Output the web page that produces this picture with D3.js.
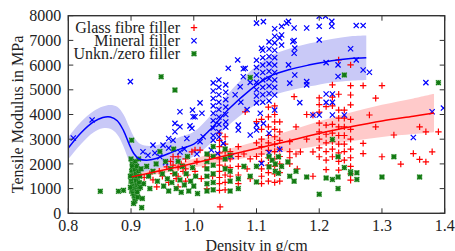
<!DOCTYPE html>
<html lang="en">
<head>
    <meta charset="UTF-8">
    <title>Tensile Modulus vs Density</title>
    <script src="https://d3js.org/d3.v7.min.js"></script>
    <style>
        body { margin: 0; background: #fff; }
    </style>
</head>
<body>
    <svg width="455" height="251"></svg>

    <script>
        // [density g/cm^3, tensile modulus MPa]
        const glassFibre = [
            [0.921,1450],[0.93,1600],[0.935,1350],[0.941,1070],[0.945,1700],[0.95,1500],[0.957,1880],[0.96,1250],
            [0.963,2100],[0.967,2290],[0.967,1950],[0.967,1610],[0.972,1400],[0.975,2290],[0.975,1850],[0.975,1500],
            [0.975,1070],[0.98,2000],[0.983,1700],[0.987,2200],[0.987,1800],[0.987,1300],[0.99,1550],[0.997,2490],
            [1.002,2560],[1.002,1700],[1.005,2100],[1.01,2560],[1.012,1400],[1.018,1880],[1.021,1000],[1.025,2300],[1.03,1500],
            [1.041,3250],[1.041,2950],[1.041,2700],[1.041,2450],[1.041,2200],[1.041,1950],[1.041,1700],[1.041,1450],
            [1.041,1200],[1.041,930],[1.042,260],
            [1.05,3100],[1.05,2800],[1.05,2500],[1.05,2200],[1.05,1900],[1.05,1550],[1.05,1250],[1.05,950],
            [1.058,2500],[1.058,2200],[1.058,1850],[1.058,1500],
            [1.071,2700],[1.071,2300],[1.071,1900],[1.071,1550],[1.071,1200],
            [1.082,4110],[1.08,2400],[1.085,1800],[1.09,2200],[1.09,1400],[1.1,3710],[1.1,2850],[1.1,2300],
            [1.108,3800],[1.108,3400],[1.108,3000],[1.108,2700],[1.108,2400],[1.108,2100],[1.108,1800],[1.108,1500],[1.108,1200],
            [1.119,4300],[1.119,3900],[1.119,3500],[1.119,3150],[1.119,2850],[1.119,2550],[1.119,2250],[1.119,1950],[1.119,1650],[1.119,1300],
            [1.129,4350],[1.129,4000],[1.129,3700],[1.129,3400],[1.129,3100],[1.129,2800],[1.129,2500],[1.129,2200],
            [1.129,1900],[1.129,1600],[1.129,1250],
            [1.137,3700],[1.137,3300],[1.137,2950],[1.137,2600],[1.137,2300],[1.137,2000],[1.137,1650],[1.137,1300],
            [1.153,2900],[1.153,2500],[1.153,2250],[1.153,2000],
            [1.163,3500],[1.163,2400],[1.16,4720],[1.17,2490],[1.165,1800],[1.18,4000],[1.18,3000],
            [1.19,3980],[1.19,2490],[1.19,1500],
            [1.2,4670],[1.2,4400],[1.2,4100],[1.2,3650],[1.2,3300],[1.2,3000],[1.2,2650],[1.2,2290],
            [1.211,4320],[1.211,3570],[1.211,3200],[1.211,2850],[1.211,2500],[1.211,2150],[1.211,1770],
            [1.221,5200],[1.221,4700],[1.221,4350],[1.221,3600],[1.221,3250],[1.221,2900],[1.221,2600],[1.221,2290],
            [1.231,6210],[1.231,4820],[1.231,4180],[1.231,3850],[1.231,3500],[1.231,3150],[1.231,2800],[1.231,2450],[1.231,2100],[1.231,1750],
            [1.24,4180],[1.24,3850],[1.24,3500],[1.24,3150],[1.24,2800],[1.24,2500],[1.24,2150],
            [1.25,6010],[1.25,5170],[1.25,4790],[1.25,4390],[1.25,3800],[1.25,3400],[1.25,3000],[1.25,2600],
            [1.25,2250],[1.25,1900],[1.25,1600],[1.25,1340],
            [1.27,5170],[1.27,2830],[1.27,2420],[1.28,3980],[1.29,4660],[1.29,3500],[1.3,5170],[1.3,2290],
            [1.319,3170],[1.33,1990],[1.35,2420],[1.36,3500],[1.36,2180],[1.37,3300],[1.37,2080],[1.38,2490],[1.39,3300]
        ];

        const mineral = [
            [0.808,3050],[0.838,3780],[0.899,5330],
            [0.919,2490],[0.927,2350],[0.935,2760],[0.938,2440],[0.946,2290],[0.951,2760],[0.955,2050],[0.96,3030],
            [0.96,2640],[0.967,2960],[0.97,3640],[0.97,3300],[0.978,3500],[0.978,4110],[0.978,2480],[0.985,2600],
            [0.989,3030],[0.994,3540],[0.997,3440],[0.998,4180],[0.999,3910],[1.002,3910],[1.005,2400],[1.01,4470],
            [1.01,2900],[1.013,4050],[1.015,3100],
            [1.031,5280],[1.031,4950],[1.031,4650],[1.031,4350],[1.031,4050],[1.031,3750],[1.031,3450],[1.031,3150],[1.031,2960],[1.028,2560],
            [1.04,5400],[1.04,5100],[1.04,4800],[1.04,4500],[1.04,4200],[1.04,3900],[1.04,3600],[1.04,3300],[1.04,3090],[1.038,2420],
            [1.051,5200],[1.051,4900],[1.051,4600],[1.051,4300],[1.051,4000],[1.051,3700],[1.051,3490],[1.047,2830],
            [1.055,5870],[1.06,2310],[1.07,6210],[1.071,3570],[1.071,3370],[1.074,5120],[1.079,5530],[1.079,5850],
            [1.082,5870],[1.066,4800],[1.075,4500],[1.085,4200],[1.09,3170],[1.09,5300],
            [1.1,7700],[1.1,6200],[1.1,5900],[1.1,5600],[1.1,5300],[1.1,5000],[1.1,4750],[1.1,4470],[1.1,3570],[1.1,3370],
            [1.11,6600],[1.11,6300],[1.11,6000],[1.11,5700],[1.11,5400],[1.11,5100],[1.11,4800],[1.11,4500],
            [1.111,3640],[1.108,2020],[1.106,4050],[1.111,7760],[1.108,6680],
            [1.12,6940],[1.12,6650],[1.12,6350],[1.12,6050],[1.12,5750],[1.12,5450],[1.12,5150],[1.12,4850],
            [1.12,4550],[1.12,3240],[1.12,2450],
            [1.129,7470],[1.129,7170],[1.129,6900],[1.129,6600],[1.129,6300],[1.129,6000],[1.129,5700],[1.129,5400],
            [1.129,5100],[1.129,4790],[1.129,4180],
            [1.137,7100],[1.137,2590],[1.14,7570],[1.14,7220],[1.14,6810],[1.148,7700],[1.151,7770],[1.151,6010],
            [1.153,5270],[1.158,6950],[1.16,7500],[1.16,7000],[1.16,6480],[1.161,6690],[1.161,5600],[1.169,4480],
            [1.18,7500],[1.18,5330],[1.18,5200],[1.19,3980],[1.2,7980],[1.21,7980],[1.2,7570],[1.2,7020],[1.2,3980],
            [1.211,6100],[1.211,4830],[1.211,4490],[1.22,7770],[1.22,7570],[1.221,4830],[1.221,4490],[1.221,3980],
            [1.23,6010],[1.23,5540],[1.24,3980],[1.25,6660],[1.259,7600],[1.259,6210],[1.27,7600],[1.27,5800],
            [1.28,5710],[1.35,3070],[1.37,5290],[1.38,4110],[1.398,4260]
        ];

        const unknownFiller = [
            [0.9,2200],[0.902,2000],[0.904,1850],[0.901,1700],[0.903,1550],[0.905,1400],[0.9,1300],[0.902,1200],
            [0.904,1100],[0.906,1000],[0.901,900],[0.903,800],[0.905,700],[0.907,600],[0.902,1900],[0.906,1750],
            [0.908,1600],[0.91,1450],[0.908,1300],[0.91,1150],[0.912,1000],[0.907,2100],[0.909,1900],[0.912,1700],
            [0.914,1500],[0.913,1250],[0.915,1050],[0.91,850],[0.906,500],[0.904,400],[0.911,650],[0.899,1500],
            [0.899,1050],[0.912,2200],[0.916,1800],[0.917,230],[0.918,600],[0.901,2960],
            [0.851,890],[0.88,890],[0.888,930],[0.948,5530],[0.97,4990],[1.09,5500],[1.24,5600],[1.39,5290],
            [0.92,1200],[0.925,1900],[0.928,1500],[0.93,1000],[0.935,1700],[0.94,2000],[0.942,1300],[0.946,2500],
            [0.95,1600],[0.952,1100],[0.955,2100],[0.958,1400],[0.96,900],[0.963,1800],[0.965,1250],[0.968,2600],
            [0.97,1600],[0.972,1000],[0.975,2100],[0.978,1350],[0.98,850],[0.982,1900],[0.985,1150],[0.988,1600],
            [0.99,2300],[0.992,900],[0.995,1300],[0.998,1850],[1.0,1100],[1.003,1500],[1.006,800],
            [1.021,2400],[1.021,2100],[1.021,1800],[1.021,1500],[1.021,1200],[1.021,900],
            [1.031,2700],[1.031,2300],[1.031,1950],[1.031,1600],[1.031,1250],[1.031,950],
            [1.05,2600],[1.05,2200],[1.05,1800],[1.058,2350],[1.058,1700],[1.058,1300],[1.058,900],
            [1.071,1400],[1.071,1000],[1.08,1900],[1.09,1500],
            [1.1,1270],[1.1,1900],[1.12,1880],[1.12,2300],[1.125,2150],[1.13,2000],[1.13,1700],[1.135,2290],
            [1.135,1620],[1.14,1900],[1.15,2080],[1.153,1500],[1.16,1300],[1.163,1700],
            [1.18,1470],[1.2,770],[1.211,1430],[1.221,1370],[1.221,2990],[1.23,1470],[1.23,1000],[1.23,2290],
            [1.24,1850],[1.25,1680],[1.25,1610],[1.26,1370],[1.26,1640],[1.3,1470],[1.319,2290],[1.36,1470]
        ];

        // fitted curves: [density, fit, half width of band]
        const mineralFit = [
            [0.8,2640,450],[0.82,3250,450],[0.84,3700,430],[0.855,3880,440],[0.867,3900,480],[0.878,3750,560],
            [0.888,3350,650],[0.897,2800,700],[0.905,2400,680],[0.913,2200,640],[0.925,2150,580],[0.94,2220,540],
            [0.96,2420,500],[0.98,2620,490],[1.0,2800,500],[1.026,3380,560],[1.055,4200,650],[1.09,5000,750],
            [1.12,5530,820],[1.153,5820,850],[1.185,6010,870],[1.22,6180,880],[1.25,6270,900],[1.275,6300,900]
        ];

        const glassFit = [
            [0.901,1475,80],[0.95,1740,120],[1.0,2030,180],[1.05,2330,240],[1.1,2620,300],[1.15,2920,400],
            [1.2,3230,500],[1.25,3500,580],[1.3,3740,650],[1.35,3930,720],[1.383,4060,780]
        ];

        const xTicks = [0.8, 0.9, 1.0, 1.1, 1.2, 1.3, 1.4];
        const yTicks = [0, 1000, 2000, 3000, 4000, 5000, 6000, 7000, 8000];

        const plotLeft = 68.3, plotRight = 444.7, plotTop = 15.7, plotBottom = 213.3;

        const x = d3.scaleLinear().domain([0.8, 1.4]).range([plotLeft, plotRight]);
        const y = d3.scaleLinear().domain([0, 8000]).range([plotBottom, plotTop]);

        const svg = d3.select('svg')
            .attr('font-family', '"Liberation Serif", "DejaVu Serif", serif');

        svg.append('clipPath')
            .attr('id', 'plot')
            .append('rect')
            .attr('x', plotLeft)
            .attr('y', plotTop)
            .attr('width', plotRight - plotLeft)
            .attr('height', plotBottom - plotTop);

        const plot = svg.append('g').attr('clip-path', 'url(#plot)');

        const band = d3.area()
            .x(d => x(d[0]))
            .y0(d => y(d[1] - d[2]))
            .y1(d => y(d[1] + d[2]))
            .curve(d3.curveCatmullRom);

        const line = d3.line()
            .x(d => x(d[0]))
            .y(d => y(d[1]))
            .curve(d3.curveCatmullRom);

        plot.append('path').datum(mineralFit).attr('d', band).attr('fill', '#c9c9f7');
        plot.append('path').datum(glassFit).attr('d', band).attr('fill', '#ffcaca');

        // markers
        const plus = (g, s) => g.append('path')
            .attr('d', `M${-s},0H${s}M0,${-s}V${s}`)
            .attr('stroke', '#ff0000')
            .attr('stroke-width', 1.2);

        const cross = (g, s) => g.append('path')
            .attr('d', `M${-s},${-s}L${s},${s}M${-s},${s}L${s},${-s}`)
            .attr('stroke', '#0000ff')
            .attr('stroke-width', 1.2);

        const star = (g, s) => {
            g.append('rect')
                .attr('x', -s - 0.5).attr('y', -s - 0.5)
                .attr('width', 2 * s + 1).attr('height', 2 * s + 1)
                .attr('fill', '#7fbf7f')
                .attr('opacity', 0.6);
            g.append('path')
                .attr('d', `M${-s},0H${s}M0,${-s}V${s}M${-s},${-s}L${s},${s}M${-s},${s}L${s},${-s}`)
                .attr('stroke', '#127a12')
                .attr('stroke-width', 1.3);
        };

        const drawSeries = (data, marker, s) => {
            plot.append('g')
                .selectAll('g')
                .data(data)
                .join('g')
                .attr('transform', d => `translate(${x(d[0])},${y(d[1])})`)
                .each(function () { marker(d3.select(this), s); });
        };

        drawSeries(glassFibre, plus, 3.2);
        drawSeries(mineral, cross, 2.6);
        drawSeries(unknownFiller, star, 2.3);

        plot.append('path').datum(mineralFit).attr('d', line)
            .attr('fill', 'none').attr('stroke', '#0000ff').attr('stroke-width', 1.5);
        plot.append('path').datum(glassFit).attr('d', line)
            .attr('fill', 'none').attr('stroke', '#ff0000').attr('stroke-width', 1.5);

        // axes, ticks inward on all four sides
        const axes = svg.append('g').attr('font-size', 16).attr('fill', '#222');

        const tickLen = 5;
        xTicks.forEach(t => {
            axes.append('line').attr('x1', x(t)).attr('x2', x(t)).attr('y1', plotBottom).attr('y2', plotBottom - tickLen)
                .attr('stroke', '#333');
            axes.append('line').attr('x1', x(t)).attr('x2', x(t)).attr('y1', plotTop).attr('y2', plotTop + tickLen)
                .attr('stroke', '#333');
            axes.append('text').attr('x', x(t)).attr('y', plotBottom + 18)
                .attr('text-anchor', 'middle')
                .text(d3.format('.1f')(t));
        });
        yTicks.forEach(t => {
            axes.append('line').attr('x1', plotLeft).attr('x2', plotLeft + tickLen).attr('y1', y(t)).attr('y2', y(t))
                .attr('stroke', '#333');
            axes.append('line').attr('x1', plotRight).attr('x2', plotRight - tickLen).attr('y1', y(t)).attr('y2', y(t))
                .attr('stroke', '#333');
            axes.append('text').attr('x', plotLeft - 7).attr('y', y(t)).attr('dy', '0.35em')
                .attr('text-anchor', 'end')
                .text(t);
        });

        svg.append('rect')
            .attr('x', plotLeft).attr('y', plotTop)
            .attr('width', plotRight - plotLeft).attr('height', plotBottom - plotTop)
            .attr('fill', 'none')
            .attr('stroke', '#333')
            .attr('stroke-width', 1.4);

        axes.append('text')
            .attr('x', (plotLeft + plotRight) / 2).attr('y', 251)
            .attr('text-anchor', 'middle')
            .text('Density in g/cm');

        axes.append('text')
            .attr('transform', `translate(23,${(plotTop + plotBottom) / 2}) rotate(-90)`)
            .attr('text-anchor', 'middle')
            .text('Tensile Modulus in MPa');

        // legend
        const legendNames = ['Glass fibre filler', 'Mineral filler', 'Unkn./zero filler'];
        const legendMarkers = [[plus, 3.2], [cross, 2.6], [star, 2.3]];
        const legend = svg.selectAll('.legend')
            .data(legendNames)
            .join('g')
            .attr('class', 'legend')
            .attr('transform', (d, i) => `translate(0,${27.7 + i * 13})`);

        legend.append('text')
            .attr('x', 180)
            .attr('dy', '0.35em')
            .attr('font-size', 16)
            .attr('fill', '#222')
            .attr('text-anchor', 'end')
            .text(d => d);

        legend.append('g')
            .attr('transform', 'translate(194,0)')
            .each(function (d, i) { legendMarkers[i][0](d3.select(this), legendMarkers[i][1]); });
    </script>
</body>
</html>
